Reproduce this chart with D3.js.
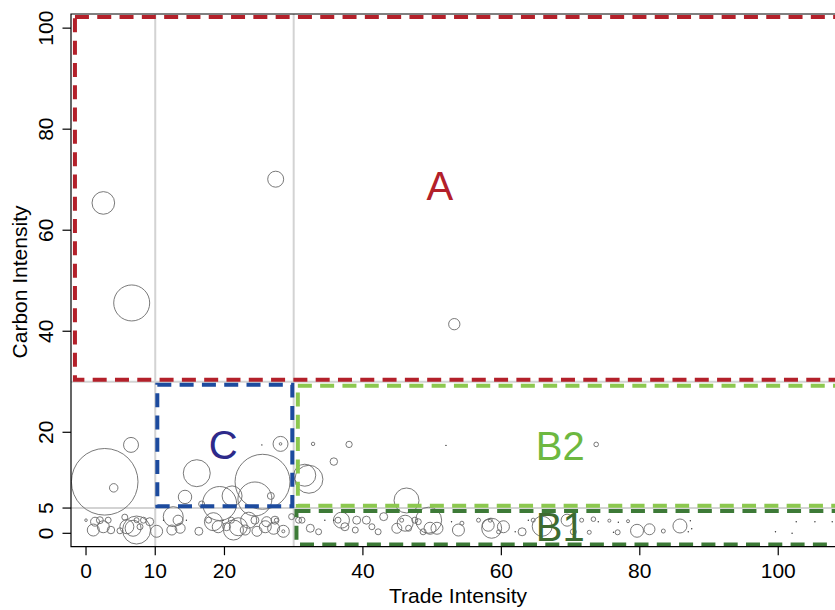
<!DOCTYPE html>
<html>
<head>
<meta charset="utf-8">
<script src="https://cdn.jsdelivr.net/npm/d3@7"></script>
<style>
  body { margin: 0; background: #fff; }
  svg { display: block; font-family: "Liberation Sans", Arial, Helvetica, sans-serif; }
</style>
</head>
<body>
<div id="chart"></div>
<script>
// Axis ticks
const xTicks = [0, 10, 20, 40, 60, 80, 100];
const yTicks = [0, 5, 20, 40, 60, 80, 100];

// Reference lines (trade / carbon thresholds)
const tradeCuts = [10, 30];
const carbonCuts = [5, 30];

// Points: [trade intensity, carbon intensity, size]
const upperPoints = [
    [2.5, 65.4, 12.8], [6.6, 45.6, 32.4], [27.4, 70.1, 6.4], [53.2, 41.4, 3.2]
];

const midPoints = [
    [2.7, 10.2, 111], [4.0, 9.0, 1.8], [6.5, 17.5, 5.6], [16.0, 11.9, 18.2],
    [25.5, 10.2, 75.6], [14.3, 7.2, 4.5], [28.1, 17.7, 5.6], [28.1, 17.7, 0.17],
    [26.7, 7.4, 1.2], [19.3, 5.9, 28.9], [21.1, 7.4, 10], [24.4, 6.8, 28.9],
    [16.7, 5.8, 0.9], [32.2, 10.7, 19.6], [31.6, 11.5, 12.1], [35.8, 14.2, 1.4],
    [38.0, 17.6, 1.0], [32.8, 17.7, 0.29], [46.3, 6.5, 15.6], [73.7, 17.6, 0.53]
];

const bandPoints = [
    [0.0, 2.6, 0.17], [1.05, 0.65, 3.6], [1.3, 2.3, 2.0], [2.0, 2.6, 1.2],
    [2.5, 1.3, 3.6], [3.2, 2.6, 0.9], [3.6, 0.65, 1.4], [4.9, 0.5, 0.9],
    [5.6, 3.2, 0.9], [5.9, 1.3, 4.9], [6.8, 1.0, 6.4], [7.3, 0.65, 19.6],
    [7.3, 2.6, 0.63], [7.8, 1.3, 0.9], [8.3, 2.6, 0.9], [9.2, 2.3, 1.6],
    [10.2, 0.4, 3.6], [12.4, 0.65, 2.5], [12.6, 3.3, 10], [13.3, 2.6, 2.5],
    [13.6, 1.0, 2.5], [16.3, 0.4, 1.6], [17.7, 2.6, 0.9], [18.4, 2.3, 8.1],
    [19.1, 1.3, 3.6], [20.3, 1.3, 1.6], [21.0, 2.6, 0.9], [21.3, 0.65, 10],
    [22.0, 1.3, 8.1], [23.0, 0.65, 2.5], [23.5, 2.6, 6.4], [24.4, 2.6, 1.6],
    [24.7, 0.4, 2.5], [25.9, 1.3, 3.6], [26.1, 2.3, 2.5], [27.1, 1.0, 3.6],
    [27.3, 2.6, 1.6], [27.5, 2.6, 0.4], [28.5, 0.4, 3.6], [28.5, 0.4, 0.23],
    [29.7, 3.3, 0.9], [30.7, 2.6, 0.9], [31.2, 2.6, 0.9], [32.4, 1.0, 1.6],
    [33.6, 0.3, 0.9], [36.4, 2.6, 0.9], [36.9, 2.6, 6.4], [37.4, 1.3, 1.6],
    [38.9, 0.65, 0.9], [39.1, 2.6, 1.6], [40.5, 2.6, 1.6], [41.3, 1.3, 0.9],
    [42.2, 0.3, 0.9], [43.0, 3.3, 1.6], [44.9, 1.0, 2.5], [45.6, 2.6, 0.4],
    [46.1, 2.0, 6.4], [46.6, 1.0, 0.9], [47.5, 2.6, 0.9], [48.0, 2.3, 0.9],
    [48.7, 0.3, 0.9], [49.5, 2.6, 16.9], [49.7, 1.0, 3.6], [50.7, 1.0, 3.6],
    [53.8, 0.65, 3.6], [54.3, 2.0, 0.4], [56.7, 2.6, 0.4], [58.1, 1.6, 3.6],
    [58.4, 2.6, 0.4], [58.6, 1.0, 10], [59.6, 0.3, 0.4], [60.3, 1.3, 3.6],
    [63.0, 0.3, 1.6], [64.6, 2.6, 0.4], [65.9, 1.4, 10], [69.5, 2.6, 3.6],
    [70.4, 0.3, 0.9], [71.6, 2.6, 0.4], [72.7, 0.2, 0.4], [73.3, 2.8, 0.53],
    [75.6, 2.5, 0.23], [76.8, 0.2, 0.63], [78.3, 2.4, 0.23], [79.6, 0.5, 4.2],
    [81.4, 0.8, 3.0], [83.4, 0.45, 0.4], [85.8, 1.45, 4.9]
];

// very small entries plotted as dots: [trade, carbon]
const dotPoints = [
    [25.4, 17.5], [52.0, 17.4], [11.2, 2.6], [14.5, 2.6], [19.8, 2.6],
    [34.5, 2.6], [35.8, 2.6], [52.8, 2.3], [62.0, 0.3], [63.9, 2.6],
    [74.0, 2.3], [76.9, 2.2], [76.2, 0.2], [87.3, 2.5], [87.0, 0.3],
    [87.5, 0.9], [99.6, 0.3], [102.0, 0.0], [102.6, 2.3], [105.3, 2.3],
    [107.8, 2.3]
];

// Group rectangles: [name, trade from, trade to, carbon from, carbon to]
const groupNames = ['A', 'C', 'B2', 'B1'];
const groupBounds = [
    [-1.6, 200, 30.4, 102.2],
    [10.3, 29.8, 5.35, 29.4],
    [30.6, 200, 5.45, 29.2],
    [30.4, 200, -2.2, 4.4]
];
// label anchor in data units
const groupLabelPos = [[51.1, 66.0], [19.8, 14.7], [68.5, 14.5], [68.5, -1.6]];
const groupColors = ['#B3202A', '#1D4B9E', '#8CC84F', '#3D7A37'];
const groupTextColors = ['#B3202A', '#2D2A8A', '#6DB840', '#3D6B30'];

const W = 835, H = 610;
const margin = { top: 14, left: 71, bottom: 63.3 };

const svg = d3.select('#chart')
    .append('svg')
    .attr('width', W)
    .attr('height', H);

const x = d3.scaleLinear().domain([-2.17, 108.2]).range([margin.left, W]);
const y = d3.scaleLinear().domain([-2.65, 102.8]).range([H - margin.bottom, margin.top]);
const r = d3.scaleSqrt().domain([0, 111]).range([0, 33.3]);

const plot = svg.append('g');

svg.append('clipPath').attr('id', 'clip')
    .append('rect')
    .attr('x', margin.left).attr('y', margin.top)
    .attr('width', W - margin.left).attr('height', H - margin.bottom - margin.top);

const inner = plot.append('g').attr('clip-path', 'url(#clip)');

// grey guide lines
inner.selectAll('.vcut')
    .data(tradeCuts)
    .join('line')
    .attr('x1', d => x(d)).attr('x2', d => x(d))
    .attr('y1', margin.top).attr('y2', H - margin.bottom)
    .attr('stroke', '#d3d3d3').attr('stroke-width', 2);

inner.selectAll('.hcut')
    .data(carbonCuts)
    .join('line')
    .attr('y1', d => y(d)).attr('y2', d => y(d))
    .attr('x1', margin.left).attr('x2', W)
    .attr('stroke', '#d3d3d3').attr('stroke-width', 2);

// bubbles
const allPoints = upperPoints.concat(midPoints, bandPoints);
inner.selectAll('.bubble')
    .data(allPoints)
    .join('circle')
    .attr('class', 'bubble')
    .attr('cx', d => x(d[0]))
    .attr('cy', d => y(d[1]))
    .attr('r', d => r(d[2]))
    .attr('fill', 'none')
    .attr('stroke', '#6a6a6a')
    .attr('stroke-width', 0.9);

inner.selectAll('.dot')
    .data(dotPoints)
    .join('circle')
    .attr('class', 'dot')
    .attr('cx', d => x(d[0]))
    .attr('cy', d => y(d[1]))
    .attr('r', 0.7)
    .attr('fill', '#333');

// dashed group boxes
inner.selectAll('.group-box')
    .data(groupBounds)
    .join('rect')
    .attr('class', 'group-box')
    .attr('x', d => x(d[0]))
    .attr('y', d => y(d[3]))
    .attr('width', d => x(d[1]) - x(d[0]))
    .attr('height', d => y(d[2]) - y(d[3]))
    .attr('fill', 'none')
    .attr('stroke', (d, i) => groupColors[i])
    .attr('stroke-width', 4)
    .attr('stroke-dasharray', '14,8.3');

inner.selectAll('.group-label')
    .data(groupNames)
    .join('text')
    .attr('class', 'group-label')
    .attr('x', (d, i) => x(groupLabelPos[i][0]))
    .attr('y', (d, i) => y(groupLabelPos[i][1]))
    .attr('text-anchor', 'middle')
    .attr('fill', (d, i) => groupTextColors[i])
    .style('font-size', '40px')
    .text(d => d);

// frame
const bottomY = H - margin.bottom;
plot.append('path')
    .attr('d', `M${W},${margin.top}H${margin.left}V${bottomY}H${W}`)
    .attr('fill', 'none')
    .attr('stroke', '#000')
    .attr('stroke-width', 1.2);

// x axis
const xAxis = svg.append('g').attr('transform', `translate(0,${bottomY})`);
xAxis.selectAll('line')
    .data(xTicks)
    .join('line')
    .attr('x1', d => x(d)).attr('x2', d => x(d))
    .attr('y1', 0).attr('y2', 8.5)
    .attr('stroke', '#000').attr('stroke-width', 1.2);
xAxis.selectAll('text')
    .data(xTicks)
    .join('text')
    .attr('x', d => x(d))
    .attr('y', 31.5)
    .attr('text-anchor', 'middle')
    .style('font-size', '21px')
    .text(d => d);

// y axis
const yAxis = svg.append('g').attr('transform', `translate(${margin.left},0)`);
yAxis.selectAll('line')
    .data(yTicks)
    .join('line')
    .attr('y1', d => y(d)).attr('y2', d => y(d))
    .attr('x1', 0).attr('x2', -8.5)
    .attr('stroke', '#000').attr('stroke-width', 1.2);
yAxis.selectAll('text')
    .data(yTicks)
    .join('text')
    .attr('transform', d => `translate(-18,${y(d)}) rotate(-90)`)
    .attr('text-anchor', 'middle')
    .style('font-size', '21px')
    .text(d => d);

// axis titles
svg.append('text')
    .attr('x', 458)
    .attr('y', 602.5)
    .attr('text-anchor', 'middle')
    .style('font-size', '21px')
    .text('Trade Intensity');

svg.append('text')
    .attr('transform', `translate(27,282) rotate(-90)`)
    .attr('text-anchor', 'middle')
    .style('font-size', '21px')
    .text('Carbon Intensity');
</script>
</body>
</html>
